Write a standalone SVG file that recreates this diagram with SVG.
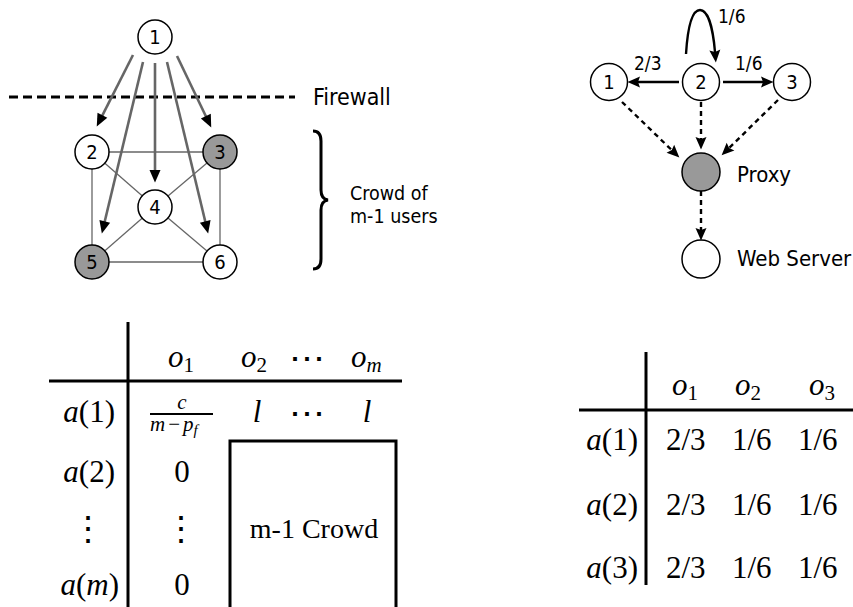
<svg xmlns="http://www.w3.org/2000/svg" width="853" height="607" viewBox="0 0 853 607">
<style>
.sans{font-family:"DejaVu Sans Condensed","DejaVu Sans",sans-serif;font-stretch:semi-condensed;fill:#000}
.math{font-family:"Liberation Serif",serif;fill:#000}
.it{font-style:italic}
.node{stroke:#000;stroke-width:1.5;fill:#fff}
.gray{fill:#999}
.edge{stroke:#666;stroke-width:1.3;fill:none}
.garrow{stroke:#666;stroke-width:2.6;fill:none}
.sarrow{stroke:#000;stroke-width:2.4;fill:none}
.darrow{stroke:#000;stroke-width:2.4;fill:none;stroke-dasharray:5 4}
.rule{stroke:#000;stroke-width:3;fill:none}
</style>
<defs>
<marker id="ah" markerUnits="userSpaceOnUse" markerWidth="13" markerHeight="11" refX="2" refY="5.5" orient="auto" overflow="visible">
<path d="M0,0 L12.5,5.5 L0,11 z" fill="#000"/>
</marker>
<marker id="ah2" markerUnits="userSpaceOnUse" markerWidth="14" markerHeight="11" refX="2" refY="5.5" orient="auto" overflow="visible">
<path d="M0,0 L12.5,5.5 L0,11 L2,5.5 z" fill="#000"/>
</marker>
</defs>

<!-- Left graph: firewall -->
<line x1="9" y1="97" x2="295" y2="97" stroke="#000" stroke-width="3" stroke-dasharray="9 5"/>
<text class="sans" x="313" y="105" font-size="23">Firewall</text>

<g id="edges-left">
<line class="edge" x1="92" y1="152" x2="220" y2="152"/>
<line class="edge" x1="92" y1="152" x2="92" y2="262"/>
<line class="edge" x1="220" y1="152" x2="220" y2="262"/>
<line class="edge" x1="92" y1="262" x2="220" y2="262"/>
<line class="edge" x1="92" y1="152" x2="155" y2="207"/>
<line class="edge" x1="220" y1="152" x2="155" y2="207"/>
<line class="edge" x1="92" y1="262" x2="155" y2="207"/>
<line class="edge" x1="220" y1="262" x2="155" y2="207"/>
</g>

<g id="l-n1"><circle class="node" cx="155" cy="37" r="17"/><text class="sans" x="155" y="44" font-size="20" text-anchor="middle">1</text></g>
<g id="l-n2"><circle class="node" cx="92" cy="152" r="17"/><text class="sans" x="92" y="159" font-size="20" text-anchor="middle">2</text></g>
<g id="l-n3"><circle class="node gray" cx="220" cy="152" r="17"/><text class="sans" x="220" y="159" font-size="20" text-anchor="middle">3</text></g>
<g id="l-n4"><circle class="node" cx="155" cy="207" r="17"/><text class="sans" x="155" y="214" font-size="20" text-anchor="middle">4</text></g>
<g id="l-n5"><circle class="node gray" cx="92" cy="262" r="17"/><text class="sans" x="92" y="269" font-size="20" text-anchor="middle">5</text></g>
<g id="l-n6"><circle class="node" cx="220" cy="262" r="17"/><text class="sans" x="220" y="269" font-size="20" text-anchor="middle">6</text></g>

<g id="arrows-left">
<line class="garrow" x1="133" y1="55" x2="101.5" y2="117.1" marker-end="url(#ah)"/>
<line class="garrow" x1="143" y1="62" x2="104.3" y2="223.3" marker-end="url(#ah)"/>
<line class="garrow" x1="155" y1="63" x2="155" y2="172" marker-end="url(#ah)"/>
<line class="garrow" x1="167" y1="62" x2="205.7" y2="223.3" marker-end="url(#ah)"/>
<line class="garrow" x1="177" y1="56" x2="206.7" y2="118" marker-end="url(#ah)"/>
</g>

<g id="crowd-brace">
<path d="M313,131 Q321,131 321,141 L321,190 Q321,199 328,200 Q321,201 321,210 L321,259 Q321,269 313,269" fill="none" stroke="#000" stroke-width="3"/>
<text class="sans" x="350" y="200" font-size="19.5">Crowd of</text>
<text class="sans" x="350" y="223" font-size="19.5">m-1 users</text>
</g>

<!-- Right graph -->
<g id="r-n1"><circle class="node" cx="609" cy="82" r="18.5"/><text class="sans" x="609" y="89" font-size="20" text-anchor="middle">1</text></g>
<g id="r-n2"><circle class="node" cx="701" cy="82" r="18.5"/><text class="sans" x="701" y="89" font-size="20" text-anchor="middle">2</text></g>
<g id="r-n3"><circle class="node" cx="792" cy="82" r="18.5"/><text class="sans" x="792" y="89" font-size="20" text-anchor="middle">3</text></g>
<g id="r-proxy"><circle class="node gray" cx="701" cy="172" r="19"/><text class="sans" x="737" y="182" font-size="22">Proxy</text></g>
<g id="r-web"><circle class="node" cx="701" cy="259" r="19"/><text class="sans" x="737" y="266" font-size="22">Web Server</text></g>

<g id="arrows-right">
<line class="sarrow" x1="679" y1="82" x2="638" y2="82" marker-end="url(#ah2)"/>
<line class="sarrow" x1="723" y1="82" x2="763" y2="82" marker-end="url(#ah2)"/>
<path class="sarrow" d="M686,54 C688,22 693,10 700,10 C708,10 713,28 715,52" marker-end="url(#ah2)"/>
<line class="darrow" x1="622" y1="102" x2="671.8" y2="150.1" marker-end="url(#ah2)"/>
<line class="darrow" x1="701" y1="102" x2="701" y2="139" marker-end="url(#ah2)"/>
<line class="darrow" x1="778" y1="100" x2="729.1" y2="148" marker-end="url(#ah2)"/>
<line class="darrow" x1="701" y1="191" x2="701" y2="230" marker-end="url(#ah2)"/>
<text class="sans" x="634" y="70" font-size="19">2/3</text>
<text class="sans" x="735" y="70" font-size="19">1/6</text>
<text class="sans" x="718" y="23" font-size="19">1/6</text>
</g>

<!-- Left table -->
<g id="table-left">
<line class="rule" x1="128" y1="322" x2="128" y2="607"/>
<line class="rule" x1="49" y1="381" x2="402" y2="381"/>
<path class="rule" d="M230,607 L230,441 L396,441 L396,607"/>
<text class="math" x="168" y="367" font-size="31"><tspan class="it">o</tspan><tspan font-size="21" dy="5">1</tspan></text>
<text class="math" x="241" y="367" font-size="31"><tspan class="it">o</tspan><tspan font-size="21" dy="5">2</tspan></text>
<text class="math" x="307" y="371" font-size="36" text-anchor="middle" font-family="DejaVu Serif">⋯</text>
<text class="math" x="351" y="367" font-size="31"><tspan class="it">o</tspan><tspan class="it" font-size="21" dy="5">m</tspan></text>

<text class="math" x="115" y="422" font-size="31" text-anchor="end"><tspan class="it">a</tspan>(1)</text>
<text class="math it" x="182" y="409" font-size="21" text-anchor="middle">c</text>
<line x1="150" y1="414" x2="213" y2="414" stroke="#000" stroke-width="2"/>
<text class="math" x="150" y="431" font-size="21"><tspan class="it">m</tspan><tspan dx="3">−</tspan><tspan class="it" dx="3">p</tspan><tspan class="it" font-size="15" dy="4">f</tspan></text>
<text class="math it" x="257" y="422" font-size="31" text-anchor="middle">l</text>
<text class="math" x="307" y="426" font-size="36" text-anchor="middle" font-family="DejaVu Serif">⋯</text>
<text class="math it" x="367" y="422" font-size="31" text-anchor="middle">l</text>

<text class="math" x="115" y="482" font-size="31" text-anchor="end"><tspan class="it">a</tspan>(2)</text>
<text class="math" x="182" y="482" font-size="31" text-anchor="middle">0</text>
<text class="math" x="88" y="540" font-size="34" text-anchor="middle" font-family="DejaVu Serif">⋮</text>
<text class="math" x="181" y="540" font-size="34" text-anchor="middle" font-family="DejaVu Serif">⋮</text>
<text class="math" x="314" y="538" font-size="28" text-anchor="middle">m-1 Crowd</text>
<text class="math" x="119" y="595" font-size="31" text-anchor="end"><tspan class="it">a</tspan>(<tspan class="it">m</tspan>)</text>
<text class="math" x="182" y="595" font-size="31" text-anchor="middle">0</text>
</g>

<!-- Right table -->
<g id="table-right">
<line class="rule" x1="646" y1="352" x2="646" y2="585"/>
<line class="rule" x1="579" y1="410" x2="853" y2="410"/>
<text class="math" x="672" y="395" font-size="31"><tspan class="it">o</tspan><tspan font-size="21" dy="5">1</tspan></text>
<text class="math" x="735" y="395" font-size="31"><tspan class="it">o</tspan><tspan font-size="21" dy="5">2</tspan></text>
<text class="math" x="809" y="395" font-size="31"><tspan class="it">o</tspan><tspan font-size="21" dy="5">3</tspan></text>
<text class="math" x="638" y="450" font-size="31" text-anchor="end"><tspan class="it">a</tspan>(1)</text>
<text class="math" x="666" y="450" font-size="31">2/3</text>
<text class="math" x="732" y="450" font-size="31">1/6</text>
<text class="math" x="798" y="450" font-size="31">1/6</text>
<text class="math" x="638" y="515" font-size="31" text-anchor="end"><tspan class="it">a</tspan>(2)</text>
<text class="math" x="666" y="515" font-size="31">2/3</text>
<text class="math" x="732" y="515" font-size="31">1/6</text>
<text class="math" x="798" y="515" font-size="31">1/6</text>
<text class="math" x="638" y="578" font-size="31" text-anchor="end"><tspan class="it">a</tspan>(3)</text>
<text class="math" x="666" y="578" font-size="31">2/3</text>
<text class="math" x="732" y="578" font-size="31">1/6</text>
<text class="math" x="798" y="578" font-size="31">1/6</text>
</g>
</svg>
